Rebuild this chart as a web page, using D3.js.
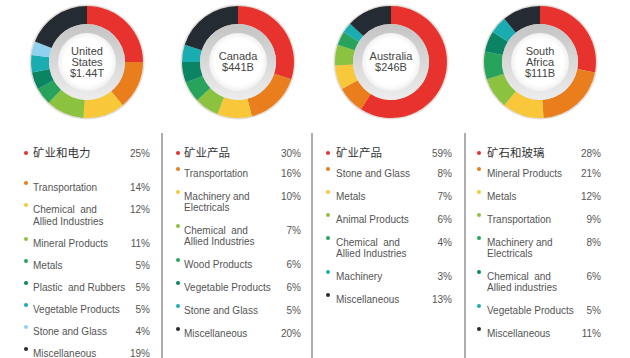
<!DOCTYPE html>
<html>
<head>
<meta charset="utf-8">
<script src="https://cdn.jsdelivr.net/npm/d3@7"></script>
<style>
  body { margin: 0; background: #fff; }
  svg { display: block; }
</style>
</head>
<body>
<div id="chart"></div>
<script>
// ---- data ----
const countryNames = [["United", "States"], ["Canada"], ["Australia"], ["South", "Africa"]]
const countryTotals = ["$1.44T", "$441B", "$246B", "$111B"]

const usCategories = ["矿业和电力", "Transportation", "Chemical  and|Allied Industries", "Mineral Products", "Metals",
  "Plastic  and Rubbers", "Vegetable Products", "Stone and Glass", "Miscellaneous"]
const usValues = [25, 14, 12, 11, 5, 5, 5, 4, 19]

const canadaCategories = ["矿业产品", "Transportation", "Machinery and|Electricals", "Chemical  and|Allied Industries",
  "Wood Products", "Vegetable Products", "Stone and Glass", "Miscellaneous"]
const canadaValues = [30, 16, 10, 7, 6, 6, 5, 20]

const australiaCategories = ["矿业产品", "Stone and Glass", "Metals", "Animal Products", "Chemical  and|Allied Industries",
  "Machinery", "Miscellaneous"]
const australiaValues = [59, 8, 7, 6, 4, 3, 13]

const southAfricaCategories = ["矿石和玻璃", "Mineral Products", "Metals", "Transportation", "Machinery and|Electricals",
  "Chemical  and|Allied industries", "Vegetable Products", "Miscellaneous"]
const southAfricaValues = [28, 21, 12, 9, 8, 6, 5, 11]

// ---- styles / layout ----
const palette = {
  red: "#e8322d", orange: "#ea7d1c", yellow: "#f8c83a", lime: "#8bc23f", green: "#27a35c",
  darkgreen: "#0b8464", teal: "#19adb2", lightblue: "#8ed2ef", dark: "#252b33"
}
const sliceColors = [
  ["red", "orange", "yellow", "lime", "green", "darkgreen", "teal", "lightblue", "dark"],
  ["red", "orange", "yellow", "lime", "green", "darkgreen", "teal", "dark"],
  ["red", "orange", "yellow", "lime", "green", "teal", "dark"],
  ["red", "orange", "yellow", "lime", "green", "darkgreen", "teal", "dark"]
]

const countries = [
  { cats: usCategories, vals: usValues },
  { cats: canadaCategories, vals: canadaValues },
  { cats: australiaCategories, vals: australiaValues },
  { cats: southAfricaCategories, vals: southAfricaValues }
]

const width = 630, height = 358
const donutX = [87, 238, 391, 540], donutY = 62
const rOuter = 56, rInner = 38
const bulletX = [26, 178, 328, 479]
const textX = [33, 184, 336, 487]
const pctX = [150, 301, 452, 601]
const dividerX = [162, 312, 465]
const firstRowY = 153
const firstGap = [34, 20, 20, 20]
const rowStep = [22, 23, 23, 23]
const lineExtra = [12, 11, 11, 11]

const font = "'Liberation Sans', Arial, sans-serif"

const svg = d3.select("#chart")
  .append("svg")
  .attr("width", width)
  .attr("height", height)
  .attr("viewBox", `0 0 ${width} ${height}`)

const defs = svg.append("defs")

const ringGrad = defs.append("linearGradient")
  .attr("id", "ringGrad")
  .attr("x1", 0).attr("y1", 0).attr("x2", 0).attr("y2", 1)
ringGrad.append("stop").attr("offset", "0%").attr("stop-color", "#c4c4c4")
ringGrad.append("stop").attr("offset", "100%").attr("stop-color", "#ededed")

const discGrad = defs.append("radialGradient")
  .attr("id", "discGrad")
discGrad.append("stop").attr("offset", "0%").attr("stop-color", "#ffffff")
discGrad.append("stop").attr("offset", "80%").attr("stop-color", "#ffffff")
discGrad.append("stop").attr("offset", "100%").attr("stop-color", "#f1f1f1")

const pie = d3.pie().sort(null).value(d => d)
const arc = d3.arc().innerRadius(rInner).outerRadius(rOuter)

countries.forEach((c, i) => {
  const g = svg.append("g")
    .attr("transform", `translate(${donutX[i]},${donutY})`)

  // faint outer shadow
  g.append("circle")
    .attr("r", rOuter + 1.5)
    .attr("fill", "#e2ddd8")

  g.selectAll("path")
    .data(pie(c.vals))
    .join("path")
    .attr("d", arc)
    .attr("fill", (d, j) => palette[sliceColors[i][j]])

  g.append("circle")
    .attr("r", rInner)
    .attr("fill", "url(#ringGrad)")

  g.append("circle")
    .attr("r", rInner - 9)
    .attr("fill", "url(#discGrad)")

  // country name + total
  const lines = countryNames[i].concat([countryTotals[i]])
  const lh = 11
  g.append("text")
    .attr("text-anchor", "middle")
    .attr("font-family", font)
    .attr("font-size", 11)
    .attr("fill", "#454545")
    .selectAll("tspan")
    .data(lines)
    .join("tspan")
    .attr("x", 0)
    .attr("y", (d, k) => (k - (lines.length - 1) / 2) * lh)
    .attr("dy", "0.36em")
    .text(d => d)

  // legend column
  let y = firstRowY
  let prevLines = 1
  c.cats.forEach((name, j) => {
    const parts = name.split("|")
    if (j === 1) y = firstRowY + firstGap[i]
    else if (j > 1) y += rowStep[i] + lineExtra[i] * (prevLines - 1)
    prevLines = parts.length

    const header = j === 0
    svg.append("circle")
      .attr("cx", bulletX[i])
      .attr("cy", header ? y : y - 4)
      .attr("r", 2)
      .attr("fill", palette[sliceColors[i][j]])

    svg.append("text")
      .attr("font-family", header ? "'Noto Sans CJK SC', sans-serif" : font)
      .attr("font-size", header ? 11.5 : 10)
      .attr("fill", header ? "#333" : "#555")
      .selectAll("tspan")
      .data(parts)
      .join("tspan")
      .attr("x", textX[i])
      .attr("y", (d, k) => y + k * lineExtra[i])
      .attr("dy", "0.36em")
      .attr("xml:space", "preserve")
      .style("white-space", "pre")
      .text(d => d)

    svg.append("text")
      .attr("x", pctX[i])
      .attr("y", y)
      .attr("dy", "0.36em")
      .attr("text-anchor", "end")
      .attr("font-family", font)
      .attr("font-size", 10)
      .attr("fill", "#555")
      .text(c.vals[j] + "%")
  })
})

svg.selectAll("line.divider")
  .data(dividerX)
  .join("line")
  .attr("class", "divider")
  .attr("x1", d => d).attr("x2", d => d)
  .attr("y1", 133).attr("y2", height)
  .attr("stroke", "#777")
  .attr("stroke-width", 1.2)
</script>
</body>
</html>
